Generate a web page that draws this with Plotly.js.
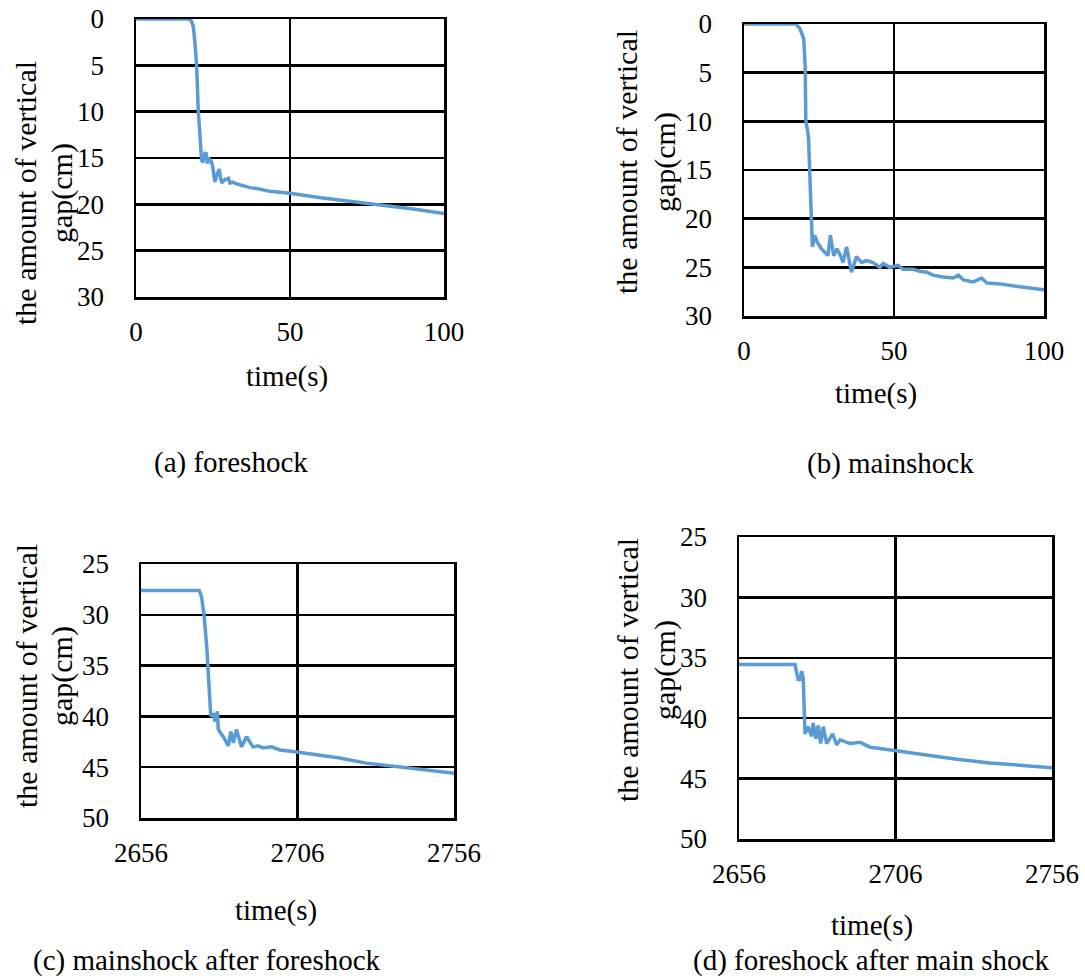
<!DOCTYPE html>
<html>
<head>
<meta charset="utf-8">
<script src="https://cdn.plot.ly/plotly-3.0.1.min.js"></script>
<style>html,body{margin:0;padding:0;background:#fff;}#chart{width:1085px;height:976px;}</style>
</head>
<body>
<div id="chart"></div>
<script>
// (a) foreshock
const timeA = [0, 17, 18, 18.6, 19.2, 19.7, 20.2, 20.8, 21.3, 21.7, 22.2, 22.7, 23.2, 23.6, 24.0, 24.5, 24.9, 25.3, 25.6, 26.3, 27.0, 27.4, 27.8, 28.4, 28.9, 29.5, 30.0, 30.5, 31.5, 32.7, 34.8, 37, 39.2, 43.5, 50, 60, 70, 80, 90, 100];
const gapA  = [0, 0, 0.2, 0.8, 2.8, 5.1, 9.8, 13.4, 15.2, 15.5, 14.6, 14.4, 15.6, 15.0, 15.2, 15.4, 15.9, 16.6, 17.6, 16.8, 16.2, 17.0, 17.7, 17.5, 17.3, 17.3, 17.2, 17.7, 17.6, 17.8, 18.0, 18.2, 18.3, 18.6, 18.8, 19.3, 19.7, 20.1, 20.5, 21.0];

// (b) mainshock
const timeB = [0, 17.2, 18.6, 19.9, 20.4, 20.6, 21.5, 21.9, 22.5, 22.8, 23.6, 24.4, 25.8, 26.9, 28.0, 28.8, 29.9, 31.0, 32.2, 33.0, 34.2, 35.8, 37.5, 39.2, 40.9, 43.0, 45.3, 46.4, 48.6, 51.4, 53.0, 56.4, 58.6, 60.9, 63.0, 66.4, 69.7, 71.5, 73.1, 76.4, 79.2, 80.9, 85.3, 92.0, 100];
const gapB  = [0, 0, 0.45, 1.5, 4.4, 9.9, 11.6, 14.7, 20.8, 22.9, 21.7, 22.4, 23.1, 23.4, 23.8, 21.7, 23.8, 23.1, 23.8, 24.5, 22.9, 25.5, 23.9, 24.5, 24.3, 24.5, 25.0, 24.6, 25.0, 24.8, 25.2, 25.2, 25.4, 25.5, 25.8, 26.0, 26.1, 25.8, 26.3, 26.5, 26.1, 26.6, 26.7, 27.0, 27.3];

// (c) mainshock after foreshock
const timeC = [2656, 2674.6, 2675.3, 2676.1, 2677.0, 2677.8, 2678.3, 2679.1, 2679.6, 2680.4, 2680.7, 2682.3, 2683.9, 2684.7, 2685.5, 2686.5, 2688.1, 2689.7, 2691.8, 2693.4, 2695.0, 2697.7, 2700.4, 2705.7, 2712.1, 2719.5, 2728.0, 2738.7, 2749.3, 2756];
const gapC  = [27.6, 27.6, 28.2, 29.9, 33.1, 37.1, 40.0, 39.7, 40.5, 39.5, 41.3, 42.0, 42.9, 41.5, 42.6, 41.3, 43.0, 42.0, 43.0, 42.9, 43.1, 43.0, 43.3, 43.5, 43.8, 44.1, 44.6, 45.0, 45.4, 45.6];

// (d) foreshock after main shock
const timeD = [2656, 2673.9, 2674.4, 2674.9, 2675.5, 2676.0, 2676.5, 2676.8, 2677.1, 2678.1, 2679.2, 2679.7, 2680.6, 2681.3, 2682.1, 2682.9, 2684.0, 2685.9, 2687.2, 2688.3, 2691.5, 2694.7, 2697.9, 2701.0, 2706.4, 2714.9, 2725.6, 2736.2, 2746.8, 2756];
const gapD  = [35.55, 35.55, 36.2, 36.8, 36.8, 36.1, 36.6, 40.2, 41.3, 40.7, 41.5, 40.4, 41.7, 40.6, 42.1, 40.7, 42.1, 41.3, 42.2, 41.8, 42.1, 42.0, 42.4, 42.5, 42.7, 43.05, 43.4, 43.7, 43.9, 44.1];

const xTicksAB = [0, 50, 100];
const xTicksCD = [2656, 2706, 2756];
const yTicksAB = [0, 5, 10, 15, 20, 25, 30];
const yTicksCD = [25, 30, 35, 40, 45, 50];

const yTitleLine1 = "the amount of vertical";
const yTitleLine2 = "gap(cm)";
const xTitle = "time(s)";
const captions = ["(a) foreshock", "(b) mainshock", "(c) mainshock after foreshock", "(d) foreshock after main shock"];

const W = 1085, H = 976;
const px = v => v / W;
const py = v => 1 - v / H;
const FONT = "Liberation Serif";
const BLUE = "#5B9BD5";

function trace(x, y, n) {
  return {x: x, y: y, xaxis: "x" + (n === 1 ? "" : n), yaxis: "y" + (n === 1 ? "" : n),
          type: "scatter", mode: "lines", line: {color: BLUE, width: 3.5}, hoverinfo: "skip", showlegend: false};
}

function xax(l, r, range, ticks, anchor) {
  return {domain: [px(l), px(r)], range: range, tickmode: "array", tickvals: ticks, ticktext: ticks.map(String),
          showgrid: true, gridcolor: "#000", gridwidth: 2.5, zeroline: false, showline: true, linecolor: "#000",
          linewidth: 2.5, mirror: true, ticks: "", ticklabelstandoff: 9, anchor: anchor,
          tickfont: {family: FONT, size: 27, color: "#000"}, fixedrange: true};
}
function yax(t, b, range, ticks, anchor) {
  return {domain: [py(b), py(t)], range: range, tickmode: "array", tickvals: ticks, ticktext: ticks.map(String),
          showgrid: true, gridcolor: "#000", gridwidth: 2.5, zeroline: false, showline: true, linecolor: "#000",
          linewidth: 2.5, mirror: true, ticks: "", ticklabelstandoff: 24, anchor: anchor,
          tickfont: {family: FONT, size: 27, color: "#000"}, fixedrange: true};
}

function ann(text, x, y, angle, size) {
  return {text: text, x: px(x), y: py(y), xref: "paper", yref: "paper", xanchor: "center", yanchor: "middle",
          showarrow: false, textangle: angle || 0, font: {family: FONT, size: size || 29, color: "#000"}};
}

const data = [trace(timeA, gapA, 1), trace(timeB, gapB, 2), trace(timeC, gapC, 3), trace(timeD, gapD, 4)];

const layout = {
  width: W, height: H, margin: {l: 0, r: 0, t: 0, b: 0}, paper_bgcolor: "#fff", plot_bgcolor: "#fff",
  showlegend: false, font: {family: FONT, color: "#000"},
  xaxis:  xax(136, 444, [0, 100], xTicksAB, "y"),
  yaxis:  yax(19, 297, [30, 0], yTicksAB, "x"),
  xaxis2: xax(744, 1044, [0, 100], xTicksAB, "y2"),
  yaxis2: yax(24, 316, [30, 0], yTicksAB, "x2"),
  xaxis3: xax(141, 454, [2656, 2756], xTicksCD, "y3"),
  yaxis3: yax(564, 818, [50, 25], yTicksCD, "x3"),
  xaxis4: xax(739, 1052, [2656, 2756], xTicksCD, "y4"),
  yaxis4: yax(537, 839, [50, 25], yTicksCD, "x4"),
  annotations: [
    ann(yTitleLine1, 26, 193, -90, 30), ann(yTitleLine2, 62, 193, -90, 30),
    ann(yTitleLine1, 627, 162, -90, 30), ann(yTitleLine2, 665, 162, -90, 30),
    ann(yTitleLine1, 26, 676, -90, 30), ann(yTitleLine2, 62, 676, -90, 30),
    ann(yTitleLine1, 627, 670, -90, 30), ann(yTitleLine2, 665, 670, -90, 30),
    ann(xTitle, 287, 376), ann(xTitle, 876, 393), ann(xTitle, 276, 910), ann(xTitle, 872, 925),
    ann(captions[0], 231, 462), ann(captions[1], 890, 463), ann(captions[2], 207, 960), ann(captions[3], 871, 960)
  ]
};

Plotly.newPlot("chart", data, layout, {staticPlot: true, displayModeBar: false});
</script>
</body>
</html>
